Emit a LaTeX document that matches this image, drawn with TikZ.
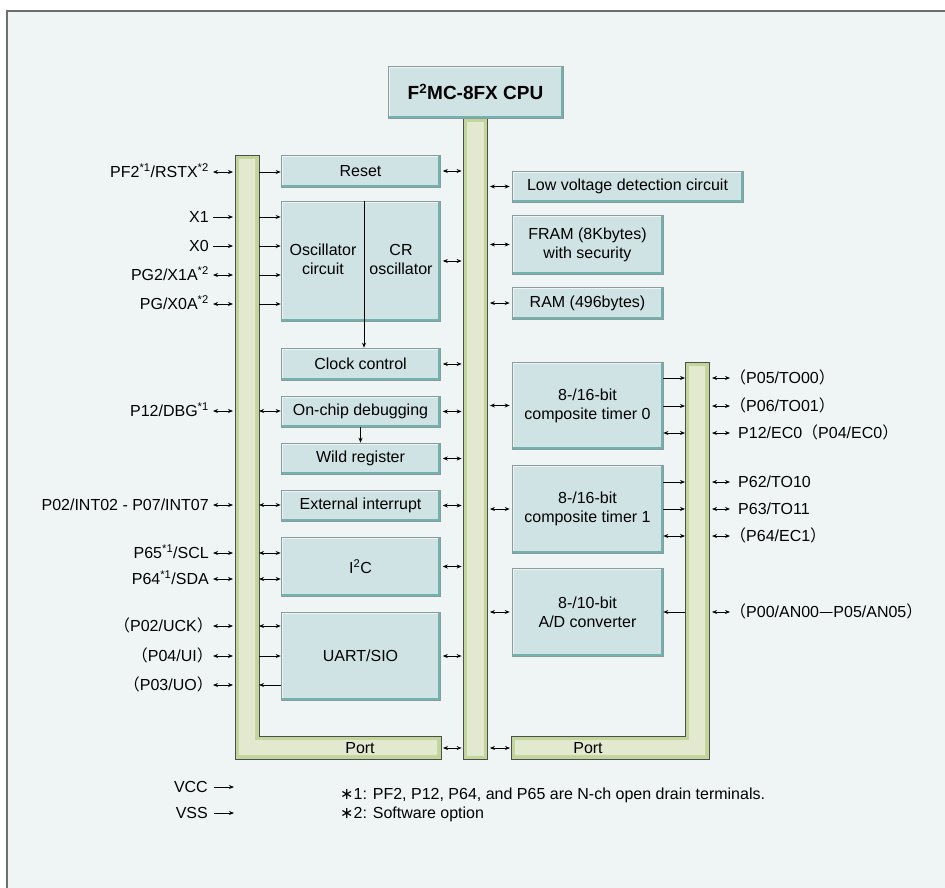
\documentclass[tikz,border=0pt]{standalone}
\usepackage{fontspec}
\setmainfont{Liberation Sans}
\newfontfamily\cjk{Noto Sans CJK JP}
\newfontfamily\symf{DejaVu Sans}
\usetikzlibrary{arrows.meta}

\definecolor{pagebg}{HTML}{EFF5F5}
\definecolor{frameline}{HTML}{6E6E6E}
\definecolor{blkfill}{HTML}{CFE3E4}
\definecolor{blkedge}{HTML}{6FB2AE}
\definecolor{blkline}{HTML}{8C9C9E}
\definecolor{busfill}{HTML}{E3E9CF}
\definecolor{busedge}{HTML}{C2D59B}
\definecolor{busline}{HTML}{4E4E4E}

\newcommand{\opar}{{\cjk （}}
\newcommand{\cpar}{{\cjk ）}}
\newcommand{\note}{{\symf ∗}}

\tikzset{
  blk/.style={draw=blkline, fill=blkfill, line width=0.6pt, inner sep=0pt, align=center,
    font=\fontsize{16}{19}\selectfont,
    path picture={
      \draw[white!60!blkfill, line width=3pt] (path picture bounding box.south west) -- (path picture bounding box.north west) -- (path picture bounding box.north east);
      \draw[blkedge, line width=4pt] (path picture bounding box.north east) -- (path picture bounding box.south east) -- (path picture bounding box.south west);
    }},
  lblk/.style={blk, minimum width=159pt},
  rblk/.style={blk, minimum width=151pt},
  bus/.style={draw=busline, fill=busfill, line width=0.8pt, inner sep=0pt,
    path picture={\draw[busedge, line width=7pt] (path picture bounding box.south west) rectangle (path picture bounding box.north east);}},
  pinlbl/.style={inner sep=0pt, text height=11.5pt, text depth=0pt, font=\fontsize{16}{19}\selectfont},
  lpin/.style={pinlbl, anchor=east, inner xsep=4pt},
  rpin/.style={pinlbl, anchor=west, inner xsep=0pt},
  arr/.style={-{Stealth[length=5pt,width=4pt]}, line width=0.8pt},
  biarr/.style={{Stealth[length=5pt,width=4pt]}-{Stealth[length=5pt,width=4pt]}, line width=0.8pt},
}

\begin{document}
\begin{tikzpicture}[x=1pt, y=-1pt]
  \useasboundingbox (0,0) rectangle (945,887);
  \fill[white] (0,0) rectangle (945,887);
  \filldraw[fill=pagebg, draw=frameline, line width=1.5pt] (7,11) rectangle (950,895);

  % buses
  \node[bus, minimum width=24pt, minimum height=641pt] (cbus) at (475,438.5) {};
  \node[blk, minimum width=175pt, minimum height=52pt, font=\fontsize{19}{22}\selectfont\bfseries] (cpu) at (475.5,92) {F\textsuperscript{2}MC-8FX CPU};

  \coordinate (lbusW) at (235,155);
  \coordinate (lbusE) at (259,155);
  \filldraw[fill=busedge, draw=busline, line width=0.8pt] (235,155) -- (259,155) -- (259,736) -- (441,736) -- (441,759) -- (235,759) -- cycle;
  \fill[busfill] (239,159) -- (255,159) -- (255,740) -- (437,740) -- (437,755) -- (239,755) -- cycle;
  \node[pinlbl] (lport) at (360,748) {Port};
  \coordinate (lportE) at (441,748);

  \coordinate (rbusW) at (685,362);
  \coordinate (rbusE) at (709,362);
  \filldraw[fill=busedge, draw=busline, line width=0.8pt] (685,362) -- (709,362) -- (709,759) -- (511,759) -- (511,736) -- (685,736) -- cycle;
  \fill[busfill] (689,366) -- (705,366) -- (705,755) -- (515,755) -- (515,740) -- (689,740) -- cycle;
  \node[pinlbl] (rport) at (588,748) {Port};
  \coordinate (rportW) at (511,748);

  % left blocks
  \node[lblk, minimum height=32pt] (reset) at (360.5,171) {Reset};
  \node[lblk, minimum height=120pt] (osc) at (360.5,261) {};
  \node[align=center, font=\fontsize{16}{19}\selectfont] (osctxt) at (323,259) {Oscillator\\circuit};
  \node[align=center, font=\fontsize{16}{19}\selectfont] (crtxt) at (401,259) {CR\\oscillator};
  \node[lblk, minimum height=32pt] (clk) at (360.5,364) {Clock control};
  \node[lblk, minimum height=31pt] (dbg) at (360.5,411.5) {On-chip debugging};
  \node[lblk, minimum height=31pt] (wild) at (360.5,458.5) {Wild register};
  \node[lblk, minimum height=31pt] (extint) at (360.5,505.5) {External interrupt};
  \node[lblk, minimum height=59pt] (iic) at (360.5,566.5) {I\textsuperscript{2}C};
  \node[lblk, minimum height=88pt] (uart) at (360.5,656) {UART/SIO};

  \coordinate (div) at (364,201);
  \draw[arr] (osc.north -| div) -- (clk.north -| div);
  \draw[arr] (dbg.south) -- (wild.north);

  % right blocks
  \node[blk, minimum width=231pt, minimum height=31pt] (lvd) at (627.5,186.5) {Low voltage detection circuit};
  \node[rblk, minimum height=59pt] (fram) at (587.5,244.5) {FRAM (8Kbytes)\\with security};
  \node[rblk, minimum height=32pt] (ram) at (587.5,303) {RAM (496bytes)};
  \node[rblk, minimum height=87pt] (tmr0) at (587.5,405.5) {8-/16-bit\\composite timer 0};
  \node[rblk, minimum height=88pt] (tmr1) at (587.5,509) {8-/16-bit\\composite timer 1};
  \node[rblk, minimum height=88pt] (adc) at (587.5,612) {8-/10-bit\\A/D converter};

  % to and from the CPU bus
  \foreach \b in {reset,osc,clk,dbg,wild,extint,iic,uart}
    \draw[biarr, shorten <=2.5pt, shorten >=1pt] (\b.east) -- (\b.east -| cbus.west);
  \draw[biarr, shorten <=2pt, shorten >=1pt] (lportE) -- (lportE -| cbus.west);
  \foreach \b in {lvd,fram,ram,tmr0,tmr1,adc}
    \draw[biarr, shorten <=2.5pt, shorten >=2pt] (\b.west -| cbus.east) -- (\b.west);
  \draw[biarr, shorten <=2.5pt, shorten >=1pt] (rportW -| cbus.east) -- (rportW);

  % left pins
  \node[lpin] (pf2) at (213,172) {PF2\textsuperscript{*1}/RSTX\textsuperscript{*2}};
  \node[lpin] (xone) at (213,217) {X1};
  \node[lpin] (xzero) at (213,246) {X0};
  \node[lpin] (pgtwo) at (213,275) {PG2/X1A\textsuperscript{*2}};
  \node[lpin] (pg) at (213,304) {PG/X0A\textsuperscript{*2}};
  \node[lpin] (dbgpin) at (213,411) {P12/DBG\textsuperscript{*1}};
  \node[lpin] (intpin) at (213,505) {P02/INT02 - P07/INT07};
  \node[lpin] (scl) at (213,553) {P65\textsuperscript{*1}/SCL};
  \node[lpin] (sda) at (213,579) {P64\textsuperscript{*1}/SDA};
  \node[lpin, inner xsep=0pt] (uck) at (213,626) {\opar P02/UCK\cpar};
  \node[lpin, inner xsep=0pt] (ui) at (213,656) {\opar P04/UI\cpar};
  \node[lpin, inner xsep=0pt] (uo) at (213,685) {\opar P03/UO\cpar};

  \foreach \p in {pf2,pgtwo,pg,dbgpin,intpin,scl,sda,uck,ui,uo}
    \draw[biarr, shorten >=2pt] (\p.east) -- (\p.east -| lbusW);
  \foreach \p in {xone,xzero}
    \draw[arr, shorten >=2pt] (\p.east) -- (\p.east -| lbusW);

  \draw[arr] (pf2 -| lbusE) -- (pf2 -| reset.west);
  \foreach \p in {xone,xzero,pgtwo,pg}
    \draw[arr] (\p -| lbusE) -- (\p -| osc.west);
  \draw[biarr] (dbgpin -| lbusE) -- (dbgpin -| dbg.west);
  \draw[biarr] (intpin -| lbusE) -- (intpin -| extint.west);
  \draw[biarr] (scl -| lbusE) -- (scl -| iic.west);
  \draw[biarr] (sda -| lbusE) -- (sda -| iic.west);
  \draw[biarr] (uck -| lbusE) -- (uck -| uart.west);
  \draw[arr] (ui -| lbusE) -- (ui -| uart.west);
  \draw[arr] (uo -| uart.west) -- (uo -| lbusE);

  % right pins
  \node[rpin] (p05) at (730,378) {\opar P05/TO00\cpar};
  \node[rpin] (p06) at (730,406) {\opar P06/TO01\cpar};
  \node[rpin, inner xsep=8pt] (p12ec) at (730,433) {P12/EC0\opar P04/EC0\cpar};
  \node[rpin, inner xsep=8pt] (p62) at (730,482) {P62/TO10};
  \node[rpin, inner xsep=8pt] (p63) at (730,509) {P63/TO11};
  \node[rpin] (p64ec) at (730,536) {\opar P64/EC1\cpar};
  \node[rpin] (p00) at (730,612) {\opar P00/AN00{\cjk —}P05/AN05\cpar};

  \foreach \p in {p05,p06,p12ec,p62,p63,p64ec,p00}
    \draw[biarr, shorten <=3pt] (\p.west -| rbusE) -- (\p.west);

  \draw[arr] (p05 -| tmr0.east) -- (p05 -| rbusW);
  \draw[arr] (p06 -| tmr0.east) -- (p06 -| rbusW);
  \draw[biarr] (p12ec -| tmr0.east) -- (p12ec -| rbusW);
  \draw[arr] (p62 -| tmr1.east) -- (p62 -| rbusW);
  \draw[arr] (p63 -| tmr1.east) -- (p63 -| rbusW);
  \draw[biarr] (p64ec -| tmr1.east) -- (p64ec -| rbusW);
  \draw[arr] (p00 -| rbusW) -- (p00 -| adc.east);

  % power and notes
  \node[lpin, inner xsep=0pt] (vcc) at (208,787) {VCC};
  \node[lpin, inner xsep=0pt] (vss) at (208,813) {VSS};
  \coordinate (vccend) at (234,787);
  \coordinate (vssend) at (234,813);
  \draw[arr, shorten <=6pt] (vcc.east) -- (vccend);
  \draw[arr, shorten <=6pt] (vss.east) -- (vssend);

  \node[pinlbl, anchor=west] (fnone) at (340,794) {\note1: PF2, P12, P64, and P65 are N-ch open drain terminals.};
  \node[pinlbl, anchor=west] (fntwo) at (340,813) {\note2: Software option};
\end{tikzpicture}
\end{document}
